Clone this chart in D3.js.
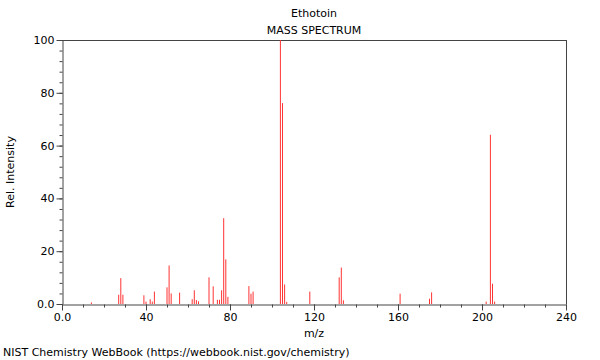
<!DOCTYPE html>
<html><head><meta charset="utf-8">
<script src="https://cdn.jsdelivr.net/npm/d3@7/dist/d3.min.js"></script>
<style>body{margin:0;background:#fff}svg{display:block;font-family:"DejaVu Sans",sans-serif}</style>
</head><body><svg id="c" width="600" height="360"></svg>
<script>
const mz =        [14, 27, 28, 29, 39, 40, 42, 43, 44, 50, 51, 52, 56, 62, 63, 64, 65, 70, 72, 74, 75, 76, 77, 78, 79, 89, 90, 91, 104, 105, 106, 107, 118, 132, 133, 134, 161, 175, 176, 202, 204, 205, 206];
const intensity = [0.6, 3.5, 9.8, 3.5, 3.3, 0.9, 1.8, 0.9, 4.7, 6.3, 14.6, 4.0, 4.3, 1.8, 5.2, 1.5, 1.0, 10.1, 6.7, 1.6, 1.6, 5.2, 32.5, 16.9, 2.7, 6.8, 3.9, 4.7, 100, 76.1, 7.4, 0.8, 4.7, 10.1, 13.8, 1.4, 3.9, 2.0, 4.4, 0.9, 64.1, 7.7, 0.9];
const xTicks = [0, 40, 80, 120, 160, 200, 240];
const yTicks = [0, 20, 40, 60, 80, 100];
const titleLines = ["Ethotoin", "MASS SPECTRUM"];

const svg = d3.select("#c");
const L = 62, R = 566, T = 40, B = 304;
const x = d3.scaleLinear().domain([0, 240]).range([L, R]);
const y = d3.scaleLinear().domain([0, 100]).range([B, T]);
const axisCol = "#444";

// box top/right
svg.append("line").attr("x1", L).attr("x2", R).attr("y1", T + 0.5).attr("y2", T + 0.5).attr("stroke", axisCol);
svg.append("line").attr("x1", R + 0.5).attr("x2", R + 0.5).attr("y1", T).attr("y2", B).attr("stroke", axisCol);

// peaks
svg.append("g").selectAll("line").data(mz).join("line")
  .attr("x1", (d) => x(d)).attr("x2", (d) => x(d))
  .attr("y1", y(0)).attr("y2", (d, i) => y(intensity[i]))
  .attr("stroke", "#ff3333").attr("stroke-width", 1);

// x axis minor
const gx = svg.append("g").attr("transform", `translate(0,${B + 0.5})`);
gx.call(d3.axisBottom(x).tickValues(d3.range(0, 241, 10)).tickSize(3).tickFormat(""));
gx.call(g => g.selectAll(".domain").remove());
const gx2 = svg.append("g").attr("transform", `translate(0,${B + 0.5})`);
gx2.call(d3.axisBottom(x).tickValues(xTicks).tickSize(6).tickSizeOuter(0).tickPadding(3)
  .tickFormat(d => d === 0 ? "0.0" : d3.format("d")(d)));
svg.selectAll("g .tick line, g .domain").attr("stroke", axisCol);
gx2.selectAll("text").attr("font-size", 11).attr("fill", "#000").attr("font-family", "DejaVu Sans");

// y axis
const gy = svg.append("g").attr("transform", `translate(${L + 0.5},0)`);
gy.call(d3.axisLeft(y).tickValues(d3.range(0, 101, 4)).tickSize(3).tickFormat(""));
gy.call(g => g.selectAll(".domain").remove());
const gy2 = svg.append("g").attr("transform", `translate(${L + 0.5},0)`);
gy2.call(d3.axisLeft(y).tickValues(yTicks).tickSize(6).tickSizeOuter(0).tickPadding(2)
  .tickFormat(d => d === 0 ? "0.0" : d3.format("d")(d)));
gy2.selectAll("text").attr("font-size", 11).attr("fill", "#000").attr("font-family", "DejaVu Sans");
svg.selectAll(".tick line, .domain").attr("stroke", axisCol);

// titles
svg.append("g").selectAll("text").data(titleLines).join("text")
  .attr("x", (L + R) / 2).attr("y", (d, i) => 17 + i * 17).attr("text-anchor", "middle")
  .attr("font-size", 11).text(d => d);
svg.append("text").attr("x", (L + R) / 2).attr("y", 337).attr("text-anchor", "middle").attr("font-size", 11).text("m/z");
svg.append("text").attr("transform", `translate(14,${(T + B) / 2}) rotate(-90)`).attr("text-anchor", "middle").attr("font-size", 11).text("Rel. Intensity");
svg.append("text").attr("x", 3).attr("y", 356).attr("font-size", 11).text("NIST Chemistry WebBook (https://webbook.nist.gov/chemistry)");
</script></body></html>
